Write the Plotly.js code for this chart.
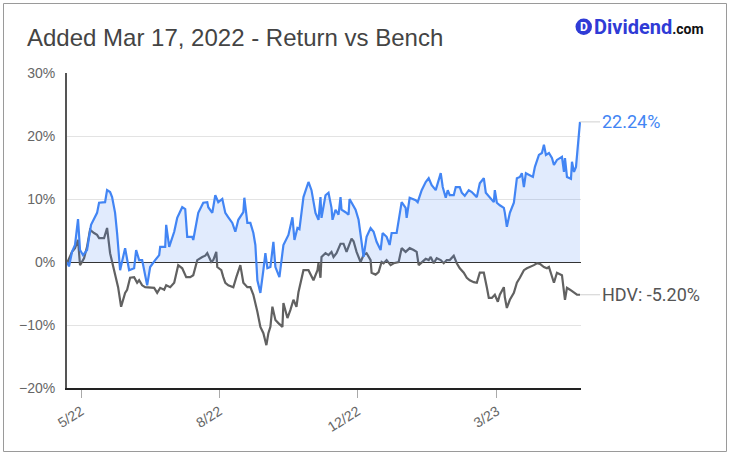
<!DOCTYPE html>
<html>
<head>
<meta charset="utf-8">
<script src="https://cdn.plot.ly/plotly-3.0.1.min.js"></script>
<style>
  html, body { margin: 0; padding: 0; background: #fff; }
  #chart { width: 730px; height: 455px; }
</style>
</head>
<body>
<div id="chart"></div>
<script>
// Cumulative return since Mar 17, 2022 (percent), by session index
const fundDays = [0,2,5,8,11,13,16,20,24,30,32,38,40,43,45,48,50,53,58,62,67,69,72,75,80,83,88,92,93,98,99,102,107,110,115,118,120,125,126,131,136,140,141,145,148,151,155,158,161,165,168,171,176,177,180,183,186,188,190,193,196,198,200,203,206,208,212,216,221,225,227,230,232,236,241,244,248,251,253,254,258,261,264,265,268,271,273,274,278,281,282,284,288,291,294,296,299,303,306,309,313,315,319,322,324,329,334,338,339,342,348,350,354,358,361,364,368,373,375,378,380,382,386,388,392,394,397,401,404,409,412,416,418,422,426,427,429,432,436,437,439,442,446,449,452,454,456,458,462,465,467,471,474,476,478,481,484,486,489,494,496,497,499,503,504,506,508,511,512];
const fundReturn = [0,-0.7,1.6,2.7,6.8,1.9,1.1,1.9,5.9,7.8,9.4,9.5,11.4,11.1,10.3,7.8,4.6,-1.3,2.2,-1.3,-1.0,1.9,0.3,0.3,-3.7,-0.8,0.3,1.1,2.4,2.4,5.9,2.4,4.8,7.0,8.7,8.4,4.0,4.0,3.5,7.8,9.4,9.5,8.7,7.8,10.6,9.5,10.0,7.8,7.1,6.2,4.8,6.7,7.9,10.2,6.2,6.2,4.6,2.7,-2.9,-4.9,-1.3,1.4,-1.0,-0.8,3.2,-0.8,-2.4,2.7,4.3,7.1,3.5,5.4,5.2,10.3,12.7,11.4,7.8,6.7,10.3,7.0,10.6,11.0,8.6,6.7,8.3,7.5,10.3,8.3,7.9,7.5,10.0,9.5,8.3,6.7,3.5,0.8,4.0,5.4,4.8,3.2,1.9,4.6,4.0,2.7,4.6,4.6,9.5,8.6,7.0,10.2,9.8,9.5,11.4,12.7,13.3,12.2,11.4,14.1,11.9,10.2,11.4,10.6,10.6,11.9,11.9,11.0,10.5,11.4,11.1,10.3,12.5,13.3,11.0,10.3,9.5,11.4,9.4,9.0,8.6,7.8,5.6,7.8,9.4,13.3,13.5,14.1,11.9,14.1,13.8,13.5,15.1,17.0,17.3,18.6,17.0,17.3,16.5,15.4,16.2,16.7,14.3,16.5,13.5,13.2,15.9,14.3,15.1,19.8,22.24];

const benchDays = [0,5,8,11,13,17,20,23,27,30,32,37,40,43,47,49,51,54,58,60,63,67,70,72,75,78,83,87,90,93,97,99,103,107,111,115,119,123,126,130,135,138,140,144,146,149,150,154,156,158,161,166,169,173,176,180,183,186,190,193,196,199,201,203,205,208,211,215,216,220,223,226,229,231,236,241,246,250,251,253,254,258,261,264,266,269,273,276,279,284,286,289,293,296,299,303,304,308,311,314,316,319,323,326,331,334,338,342,346,349,351,354,358,361,363,366,369,373,376,379,382,386,389,392,396,399,402,406,409,412,416,419,421,424,427,430,432,436,437,439,442,446,449,452,456,459,462,466,469,472,476,479,481,482,486,489,494,497,499,502,506,509,512];
const benchReturn = [-0.2,1.6,2.2,3.5,-0.5,0.6,2.4,5.1,4.6,4.3,3.8,3.8,5.4,1.4,-1.3,-2.9,-4.0,-7.1,-4.9,-4.4,-2.5,-2.4,-3.3,-2.9,-3.7,-4.0,-4.1,-4.1,-4.9,-4.1,-4.4,-3.7,-4.0,-3.3,-0.5,-1.0,-2.4,-2.4,-2.1,0.3,0.8,1.0,1.4,0,0.3,1.6,-0.8,-1.3,-2.4,-3.3,-3.7,-4.0,-2.4,-0.5,-3.3,-4.0,-4.0,-5.2,-7.9,-10.3,-11.3,-13.2,-11.3,-10.3,-7.1,-9.2,-9.7,-10.3,-6.5,-8.9,-7.6,-6.0,-7.1,-4.8,-1.3,-1.3,-2.9,-1.3,-0.2,-2.5,0.8,1.4,1.1,1.6,0.8,1.4,2.9,2.9,1.6,3.7,3.3,1.6,0,1.1,1.4,0.3,-1.7,-2.0,-1.6,0,-0.2,0.3,-0.5,-0.2,0,2.2,1.6,2.2,1.9,1.6,-0.5,0,0.5,0.3,0.8,-0.2,0.6,0.3,-0.2,0.3,0.3,1.0,-0.2,-1.0,-1.7,-2.5,-2.9,-3.2,-3.3,-1.7,-1.7,-4.0,-5.7,-5.7,-5.2,-6.3,-5.2,-4.0,-5.6,-7.3,-6.0,-4.9,-3.3,-2.5,-1.3,-1.0,-0.8,-0.5,-0.2,-0.3,-0.8,-1.0,-0.8,-1.3,-3.3,-1.7,-2.1,-6.0,-4.1,-4.4,-4.9,-5.2,-5.20];

const benchName = 'HDV';
const tickDays = [14, 152, 290, 429];
const tickLabels = ['5/22', '8/22', '12/22', '3/23'];
const titleText = 'Added Mar 17, 2022 - Return vs Bench';

// Plot-area geometry in pixels (used to place the frame and logo in paper units)
const W = 730, H = 455;
const M = { l: 67, r: 149, t: 73, b: 67 };
const PW = W - M.l - M.r, PH = H - M.t - M.b;
const px = x => (x - M.l) / PW;
const py = y => (H - M.b - y) / PH;

const fundLast = fundReturn[fundReturn.length - 1];
const benchLast = benchReturn[benchReturn.length - 1];

const traces = [
  {
    x: benchDays, y: benchReturn, type: 'scatter', mode: 'lines',
    line: { color: '#616161', width: 2.2 }, hoverinfo: 'skip'
  },
  {
    x: fundDays, y: fundReturn, type: 'scatter', mode: 'lines',
    fill: 'tozeroy', fillcolor: 'rgba(66,133,244,0.16)',
    line: { color: '#4285f4', width: 2.2 }, hoverinfo: 'skip'
  }
];

const layout = {
  width: W, height: H,
  margin: M,
  paper_bgcolor: '#fff', plot_bgcolor: '#fff',
  showlegend: false,
  font: { family: 'Arial, "Liberation Sans", sans-serif', color: '#555' },
  title: {
    text: titleText,
    xref: 'container', yref: 'container',
    x: 27 / W, xanchor: 'left',
    y: 1 - 38 / H, yanchor: 'middle',
    font: { size: 24, color: '#444', family: 'Arial, "Liberation Sans", sans-serif' }
  },
  xaxis: {
    range: [0, PW - 1],
    tickvals: tickDays, ticktext: tickLabels,
    tickangle: -32,
    ticks: 'outside', ticklen: 8, tickcolor: '#aaa', tickwidth: 1,
    tickfont: { size: 14, color: '#666' },
    showgrid: false, zeroline: false,
    showline: true, linecolor: '#222', linewidth: 2,
    automargin: false, fixedrange: true
  },
  yaxis: {
    range: [-20, 30], dtick: 10, tick0: 0,
    ticksuffix: '%',
    ticks: 'outside', ticklen: 7, tickcolor: 'rgba(0,0,0,0)',
    tickfont: { size: 14, color: '#666' },
    showgrid: true, gridcolor: '#e3e3e3', gridwidth: 1,
    zeroline: true, zerolinecolor: '#333', zerolinewidth: 1,
    showline: true, linecolor: '#555', linewidth: 2,
    automargin: false, fixedrange: true
  },
  shapes: [
    {
      type: 'rect', xref: 'paper', yref: 'paper', layer: 'below',
      x0: px(3.5), x1: px(726.5), y0: py(451.5), y1: py(3.5),
      line: { color: '#9a9a9a', width: 1 }, fillcolor: 'rgba(0,0,0,0)'
    },
    {
      type: 'circle', xref: 'paper', yref: 'paper',
      x0: px(575.5), x1: px(592), y0: py(35), y1: py(18.5),
      line: { width: 0 }, fillcolor: '#2f3bd6'
    }
  ],
  annotations: [
    {
      x: fundDays[fundDays.length - 1], y: fundLast, xref: 'x', yref: 'y',
      text: fundLast.toFixed(2) + '%',
      showarrow: true, arrowhead: 0, arrowwidth: 1, arrowcolor: '#d0d0d0',
      ax: 20, ay: 0, xanchor: 'left', yanchor: 'middle', standoff: 0,
      font: { size: 18, color: '#4285f4', family: 'Roboto, Arial, sans-serif' }
    },
    {
      x: benchDays[benchDays.length - 1], y: benchLast, xref: 'x', yref: 'y',
      text: benchName + ': ' + benchLast.toFixed(2) + '%',
      showarrow: true, arrowhead: 0, arrowwidth: 1, arrowcolor: '#d0d0d0',
      ax: 20, ay: 0, xanchor: 'left', yanchor: 'middle', standoff: 0,
      font: { size: 18, color: '#555', family: 'Roboto, Arial, sans-serif' }
    },
    {
      xref: 'paper', yref: 'paper', x: px(583.8), y: py(26.8),
      text: '<b>D</b>', showarrow: false, xanchor: 'center', yanchor: 'middle',
      font: { size: 12, color: '#fff', family: 'Roboto, Arial, sans-serif' }
    },
    {
      xref: 'paper', yref: 'paper', x: px(592), y: py(26.5),
      text: '<b>Dividend</b><span style="font-size:14px;color:#111"><b>.com</b></span>',
      showarrow: false, xanchor: 'left', yanchor: 'middle',
      font: { size: 20, color: '#2f3bd6', family: 'Roboto, Arial, sans-serif' }
    }
  ]
};

Plotly.newPlot('chart', traces, layout, { staticPlot: true, displayModeBar: false });
</script>
</body>
</html>
